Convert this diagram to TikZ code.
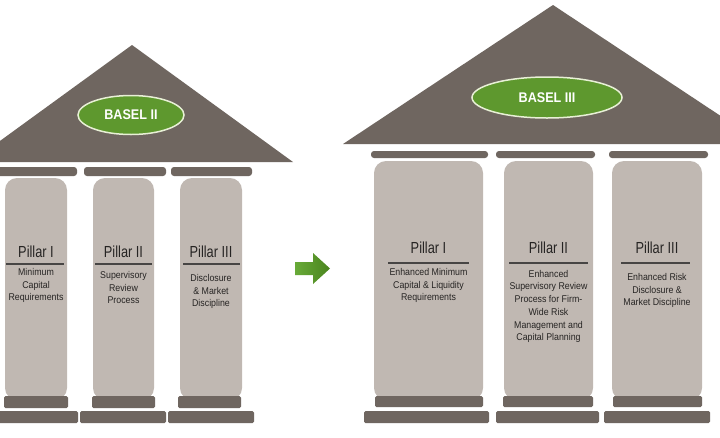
\documentclass[tikz,border=0pt]{standalone}
\usepackage{fontspec}
\setmainfont{Liberation Sans}
\newfontfamily\titlefont[FakeStretch=0.8]{Liberation Sans}
\newfontfamily\descfont[FakeStretch=0.9]{Liberation Sans}
\usetikzlibrary{shapes.geometric}
\definecolor{roof}{RGB}{111,102,96}
\definecolor{shaft}{RGB}{192,184,178}
\definecolor{ink}{RGB}{38,36,35}
\definecolor{leaf}{RGB}{94,152,46}
\definecolor{leafrim}{RGB}{232,240,214}
\definecolor{arrowA}{RGB}{104,170,56}
\definecolor{arrowB}{RGB}{74,132,30}
\begin{document}
\begin{tikzpicture}[x=1pt,y=-1pt,
  roofshape/.style={fill=roof},
  barshape/.style={fill=roof, rounded corners=3pt},
  shaftshape/.style={fill=shaft, rounded corners=12pt},
  plinth/.style={fill=roof, rounded corners=1.5pt},
  badge/.style={ellipse, fill=leaf, draw=leafrim, line width=1.5pt, text=white,
    font=\descfont\fontsize{14}{16}\selectfont\bfseries, inner sep=0pt},
  ptitle/.style={text=ink, font=\titlefont\fontsize{16}{18}\selectfont, inner sep=0pt},
  pdesc/.style={text=ink, font=\descfont\fontsize{9.8}{12.7}\selectfont, align=center, inner sep=0pt},
  prule/.style={draw=ink!85, line width=1.3pt}
]
\clip (0,0) rectangle (720,437);
\fill[white] (0,0) rectangle (720,437);

% ================= LEFT BUILDING (BASEL II) =================
\fill[roofshape] (-29,162) -- (132,45) -- (293,162) -- cycle;
\node[badge, minimum width=106pt, minimum height=39pt] (ellL) at (131,115) {BASEL II};

\fill[barshape] (-5,167) rectangle (77,176);
\fill[barshape] (84,167) rectangle (166,176);
\fill[barshape] (171,167) rectangle (252,176);

\fill[shaftshape] (5,178) rectangle (67,400);
\fill[shaftshape] (93,178) rectangle (154,400);
\fill[shaftshape] (180,178) rectangle (242,400);

\fill[plinth] (4,396) rectangle (68,408);
\fill[plinth] (92,396) rectangle (155,408);
\fill[plinth] (178,396) rectangle (241,408);

\fill[plinth] (-5,411) rectangle (78,423);
\fill[plinth] (80,411) rectangle (166,423);
\fill[plinth] (168,411) rectangle (254,423);

\node[ptitle] (tL1) at (36,252) {Pillar I};
\draw[prule] (6,264) -- (64,264);
\node[pdesc] (dL1) at (36,285.5) {Minimum\\Capital\\Requirements};

\node[ptitle] (tL2) at (123.5,252) {Pillar II};
\draw[prule] (95,264) -- (152,264);
\node[pdesc] (dL2) at (123.5,287.5) {Supervisory\\Review\\Process};

\node[ptitle] (tL3) at (211,252) {Pillar III};
\draw[prule] (183,264) -- (240,264);
\node[pdesc] (dL3) at (211,291.5) {Disclosure\\\& Market\\Discipline};

% ================= ARROW =================
\shade[left color=arrowA, right color=arrowB]
  (295,262) -- (313,262) -- (313,253) -- (330,268.5) -- (313,284) -- (313,275) -- (295,275) -- cycle;

% ================= RIGHT BUILDING (BASEL III) =================
\fill[roofshape] (343,144) -- (553,5) -- (763,144) -- cycle;
\node[badge, minimum width=150pt, minimum height=41pt] (ellR) at (547,97.5) {BASEL III};

\fill[barshape] (371,151) rectangle (488,158);
\fill[barshape] (496,151) rectangle (595,158);
\fill[barshape] (609,151) rectangle (708,158);

\fill[shaftshape] (374,161) rectangle (483,400);
\fill[shaftshape] (504,161) rectangle (593,400);
\fill[shaftshape] (612,161) rectangle (702,400);

\fill[plinth] (375,396) rectangle (483,407);
\fill[plinth] (503,396) rectangle (593,407);
\fill[plinth] (613,396) rectangle (702,407);

\fill[plinth] (364,411) rectangle (489,423);
\fill[plinth] (496,411) rectangle (599,423);
\fill[plinth] (604,411) rectangle (710,423);

\node[ptitle] (tR1) at (428.5,248) {Pillar I};
\draw[prule] (388,263) -- (469,263);
\node[pdesc] (dR1) at (428.5,285.5) {Enhanced Minimum\\Capital \& Liquidity\\Requirements};

\node[ptitle] (tR2) at (548.5,248) {Pillar II};
\draw[prule] (509,263) -- (588,263);
\node[pdesc] (dR2) at (548.5,306.5) {Enhanced\\Supervisory Review\\Process for Firm-\\Wide Risk\\Management and\\Capital Planning};

\node[ptitle] (tR3) at (657,248) {Pillar III};
\draw[prule] (621,263) -- (690,263);
\node[pdesc] (dR3) at (657,290.5) {Enhanced Risk\\Disclosure \&\\Market Discipline};
\end{tikzpicture}
\end{document}
